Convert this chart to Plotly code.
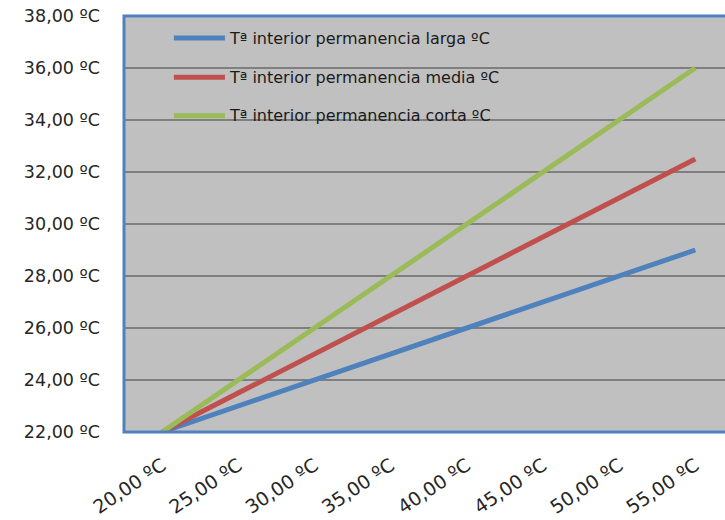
import plotly.graph_objects as go

# Outdoor temperature categories (x axis)
categorias = ["20,00 ºC", "25,00 ºC", "30,00 ºC", "35,00 ºC",
              "40,00 ºC", "45,00 ºC", "50,00 ºC", "55,00 ºC"]

# Indoor temperature series
larga = [22.0, 23.0, 24.0, 25.0, 26.0, 27.0, 28.0, 29.0]
media = [22.0, 23.5, 25.0, 26.5, 28.0, 29.5, 31.0, 32.5]
corta = [22.0, 24.0, 26.0, 28.0, 30.0, 32.0, 34.0, 36.0]

nombres = ["Tª interior permanencia larga ºC",
           "Tª interior permanencia media ºC",
           "Tª interior permanencia corta ºC"]
colores = ["#4F81BD", "#C0504D", "#9BBB59"]

y_vals = [22, 24, 26, 28, 30, 32, 34, 36, 38]
y_text = ["22,00 ºC", "24,00 ºC", "26,00 ºC", "28,00 ºC", "30,00 ºC",
          "32,00 ºC", "34,00 ºC", "36,00 ºC", "38,00 ºC"]

idx = list(range(len(categorias)))

fig = go.Figure()
for serie, nombre, color in zip([larga, media, corta], nombres, colores):
    fig.add_trace(go.Scatter(x=idx, y=serie, mode="lines", name=nombre,
                             line=dict(color=color, width=5),
                             showlegend=False))

y_font = dict(family="DejaVu Sans", size=17.5, color="#262626")
x_font = dict(family="DejaVu Sans", size=19, color="#262626")

fig.update_layout(
    width=725, height=520,
    margin=dict(l=124, r=0, t=16, b=88),
    paper_bgcolor="white",
    plot_bgcolor="#C0C0C0",
    xaxis=dict(range=[-0.5, 7.39], tickmode="array", tickvals=idx,
               ticktext=categorias, tickangle=-34, showgrid=False,
               zeroline=False, showline=False, tickfont=x_font,
               ticklabelstandoff=18),
    yaxis=dict(range=[22, 38], tickmode="array", tickvals=y_vals,
               ticktext=y_text, showgrid=True, gridcolor="#7F7F7F",
               gridwidth=1.5, zeroline=False, showline=False,
               tickfont=y_font, ticklabelstandoff=23),
)

# Plot-area border (right side continues past the page edge)
fig.add_shape(type="rect", xref="paper", yref="paper",
              x0=0, x1=1.05, y0=0, y1=1,
              line=dict(color="#4F81BD", width=3), fillcolor="rgba(0,0,0,0)",
              layer="above")

# Legend drawn inside the plot area
ley_y = [0.947, 0.853, 0.760]
for nombre, color, yy in zip(nombres, colores, ley_y):
    fig.add_shape(type="line", xref="paper", yref="paper",
                  x0=0.083, x1=0.168, y0=yy, y1=yy,
                  line=dict(color=color, width=5))
    fig.add_annotation(xref="paper", yref="paper", x=0.172, y=yy,
                       text=nombre, showarrow=False, xanchor="left",
                       yanchor="middle",
                       font=dict(family="DejaVu Sans", size=16, color="#1a1a1a"))

fig.write_html("out.html")
